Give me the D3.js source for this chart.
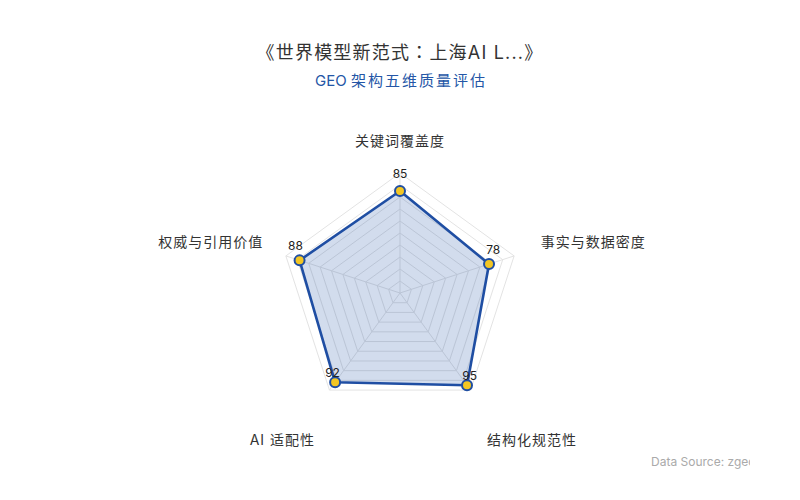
<!DOCTYPE html>
<html><head><meta charset="utf-8">
<script src="https://cdn.jsdelivr.net/npm/d3@7/dist/d3.min.js"></script>
<style>html,body{margin:0;padding:0;background:#fff;}svg{display:block;font-family:Inter,"Noto Sans CJK SC","Noto Sans",sans-serif;}</style>
</head><body>
<svg id="c" width="800" height="500"></svg>
<script>
const categories = ["关键词覆盖度","事实与数据密度","结构化规范性","AI 适配性","权威与引用价值"];
const values = [85, 78, 95, 92, 88];
const maxValue = 100;
const ringLevels = [10,20,30,40,50,60,70,80,90,100];
const titleParts = ["《世界模型新范式", "：", "上海AI L...》"];
const subtitleParts = ["GEO ", "架构五维质量评估"];
const sourceText = "Data Source: zgeo.ai";

const svg = d3.select("#c");
const cx = 400, cy = 293, R = 120;
const n = categories.length;
const r = d3.scaleLinear().domain([0, maxValue]).range([0, R]);
const ang = i => -Math.PI/2 + i*2*Math.PI/n;
const pt = (i, v) => [cx + r(v)*Math.cos(ang(i)), cy + r(v)*Math.sin(ang(i))];

// title
const t = svg.append("text").attr("x",400).attr("y",59).attr("text-anchor","middle")
  .attr("font-size",18).attr("letter-spacing",1.2).attr("fill","#333");
titleParts.forEach((p,k)=>{
  const ts = t.append("tspan").text(p);
  if (k===1) ts.attr("font-family","'Noto Sans CJK TC'");
});
const st = svg.append("text").attr("x",401).attr("y",86).attr("text-anchor","middle")
  .attr("font-size",15).attr("fill","#2456a6");
st.append("tspan").text(subtitleParts[0]);
st.append("tspan").attr("letter-spacing",2).text(subtitleParts[1]);

// rings
const g = svg.append("g");
g.selectAll("polygon.ring").data(ringLevels).join("polygon")
  .attr("class","ring")
  .attr("points", lv => d3.range(n).map(i => pt(i, lv).join(",")).join(" "))
  .attr("fill","none").attr("stroke","#e3e3e3").attr("stroke-width",1);
// spokes
g.selectAll("line.spoke").data(d3.range(n)).join("line")
  .attr("x1",cx).attr("y1",cy)
  .attr("x2",i=>pt(i,maxValue)[0]).attr("y2",i=>pt(i,maxValue)[1])
  .attr("stroke","#e3e3e3").attr("stroke-width",1);

// area
const poly = values.map((v,i)=>pt(i,v));
const lineGen = d3.line().curve(d3.curveLinearClosed);
g.append("path").attr("d", lineGen(poly))
  .attr("fill","rgba(30,79,163,0.2)")
  .attr("stroke","#1f4ea3").attr("stroke-width",2.6).attr("stroke-linejoin","round");

// points
g.selectAll("circle.pt").data(values).join("circle")
  .attr("cx",(v,i)=>pt(i,v)[0]).attr("cy",(v,i)=>pt(i,v)[1])
  .attr("r",5).attr("fill","#f3c623").attr("stroke","#1f4ea3").attr("stroke-width",2);

// value labels
g.selectAll("text.val").data(values).join("text")
  .attr("x",(v,i)=>pt(i,v)[0] + 4.4*Math.cos(ang(i)))
  .attr("y",(v,i)=>pt(i,v)[1] + 4.4*Math.sin(ang(i)) - 13.6)
  .attr("dominant-baseline","central").attr("text-anchor","middle")
  .attr("font-size",12).attr("fill","#222").text(v=>v);

// axis names
const gap = 28;
g.selectAll("text.name").data(categories).join("text")
  .attr("x",(c,i)=>{const cs=Math.cos(ang(i)); return cx + (R+gap)*cs + (cs<-0.9?4:(cs<-0.5?2:0));})
  .attr("y",(c,i)=>{const s=Math.sin(ang(i)); return cy + (R+gap)*s + (s>0.5?27:(s<-0.9?-5:-6));})
  .attr("dominant-baseline","central")
  .attr("text-anchor",(c,i)=>{const cs=Math.cos(ang(i)); return cs>0.01?"start":(cs<-0.01?"end":"middle");})
  .attr("font-size",14).attr("letter-spacing",1).attr("fill","#333").text(c=>c);

// source
svg.append("clipPath").attr("id","clipSrc").append("rect").attr("x",600).attr("y",440).attr("width",150).attr("height",40);
svg.append("text").attr("x",651).attr("y",466).attr("clip-path","url(#clipSrc)")
  .attr("font-size",12).attr("fill","#aaa").text(sourceText);
</script>
</body></html>
